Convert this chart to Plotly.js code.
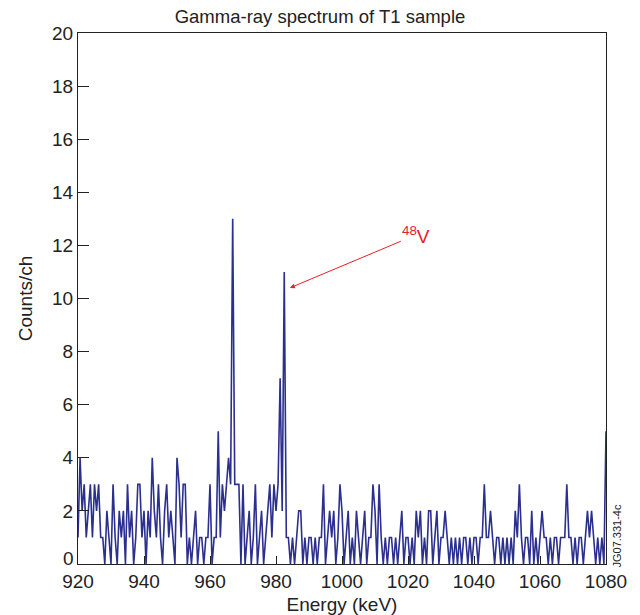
<!DOCTYPE html>
<html>
<head>
<meta charset="utf-8">
<script src="https://cdn.plot.ly/plotly-3.0.1.min.js"></script>
<style>html,body{margin:0;padding:0;background:#fff;}#chart{width:640px;height:615px;}</style>
</head>
<body>
<div id="chart"></div>
<script>
// Spectrum: channel counts starting at 920 keV, 0.625 keV per channel
const startEnergy = 920;
const channelWidth = 0.625;
const counts = [
1,4,2,3,1,2,3,1,3,2, 3,1,1,0,2,1,0,3,1,0,
2,1,2,0,3,1,2,0,1,3, 3,1,2,0,2,1,4,2,1,3,
1,0,2,3,1,2,1,0,4,3, 1,3,3,0,1,0,1,2,0,1,
1,0,1,1,3,0,1,1,5,1, 3,2,3,4,3,13,3,3,3,0,
3,0,1,2,0,1,3,0,1,2, 0,1,2,3,1,3,2,3,7,2,
11,1,1,0,1,0,1,2,2,0, 1,0,1,1,0,1,0,1,1,3,
0,1,2,1,2,0,1,3,2,0, 1,2,0,1,0,2,1,0,1,2,
0,1,1,3,2,0,3,1,0,1, 0,1,1,0,1,0,1,2,0,1,
1,0,1,0,2,1,2,0,1,0, 2,2,0,1,2,0,1,1,2,1,
0,1,0,1,0,1,0,1,1,0, 1,0,1,1,0,1,1,3,1,1,
2,1,0,1,1,0,1,0,1,0, 1,0,2,1,3,1,0,1,1,0,
2,0,1,0,1,2,1,1,0,1, 0,1,1,0,1,1,1,3,1,1,
0,1,0,1,1,0,1,2,1,2, 1,0,1,0,1,0,5
];
const xTicks = [920, 940, 960, 980, 1000, 1020, 1040, 1060, 1080];
const yTicks = [0, 2, 4, 6, 8, 10, 12, 14, 16, 18, 20];
const titleText = "Gamma-ray spectrum of T1 sample";
const xTitle = "Energy (keV)";
const yTitle = "Counts/ch";
const peakLabel = "<sup>48</sup>V";
const peakPoint = [984.2, 10.4];
const labelPoint = [1022.5, 12.4];
const figureId = "JG07.331-4c";

const font = "Liberation Sans, Arial, Helvetica, sans-serif";
const ink = "#222";

const trace = {
  type: "scatter",
  mode: "lines",
  x0: startEnergy,
  dx: channelWidth,
  y: counts,
  line: {color: "#2b2f8e", width: 1.6},
  hoverinfo: "x+y"
};

// y tick 0 is drawn slightly raised (as in the original) via an annotation
const yTickText = yTicks.map(v => v === 0 ? "" : String(v));

const layout = {
  width: 640,
  height: 615,
  margin: {l: 78, r: 34, t: 33, b: 51},
  paper_bgcolor: "#ffffff",
  plot_bgcolor: "#ffffff",
  showlegend: false,
  font: {family: font, size: 18, color: ink},
  title: {text: titleText, font: {family: font, size: 18.5, color: ink}, x: 0.5, xanchor: "center", y: 0.973, yanchor: "middle"},
  xaxis: {
    range: [920, 1080],
    tickvals: xTicks,
    ticktext: xTicks.map(String),
    ticks: "inside",
    ticklen: 8,
    tickcolor: ink,
    showgrid: false,
    zeroline: false,
    showline: true,
    linecolor: ink,
    linewidth: 1,
    mirror: true,
    tickfont: {family: font, size: 19, color: ink},
    title: {text: xTitle, font: {family: font, size: 19, color: ink}, standoff: 6}
  },
  yaxis: {
    range: [0, 20],
    tickvals: yTicks,
    ticktext: yTickText,
    ticks: "inside",
    ticklen: 11,
    tickcolor: ink,
    showgrid: false,
    zeroline: false,
    showline: true,
    linecolor: ink,
    linewidth: 1,
    mirror: true,
    tickfont: {family: font, size: 19, color: ink},
    title: {text: yTitle, font: {family: font, size: 19, color: ink}, standoff: 14}
  },
  annotations: [
    {
      x: peakPoint[0], y: peakPoint[1], xref: "x", yref: "y",
      ax: labelPoint[0], ay: labelPoint[1], axref: "x", ayref: "y",
      text: peakLabel,
      font: {family: font, size: 19, color: "#e8202a"},
      showarrow: true, arrowhead: 2, arrowsize: 1, arrowwidth: 1, arrowcolor: "#e8202a",
      standoff: 0, startstandoff: 0
    },
    {
      x: 0, y: 0, xref: "paper", yref: "y",
      xanchor: "right", yanchor: "middle", xshift: -2, yshift: 6,
      text: String(yTicks[0]), showarrow: false,
      font: {family: font, size: 19, color: ink}
    },
    {
      x: 1.0, y: 0.0, xref: "paper", yref: "paper",
      xanchor: "left", yanchor: "bottom", xshift: 2, yshift: -6,
      text: figureId, textangle: -90, showarrow: false,
      font: {family: font, size: 11, color: ink}
    }
  ]
};

Plotly.newPlot("chart", [trace], layout, {displayModeBar: false, staticPlot: true});
</script>
</body>
</html>
